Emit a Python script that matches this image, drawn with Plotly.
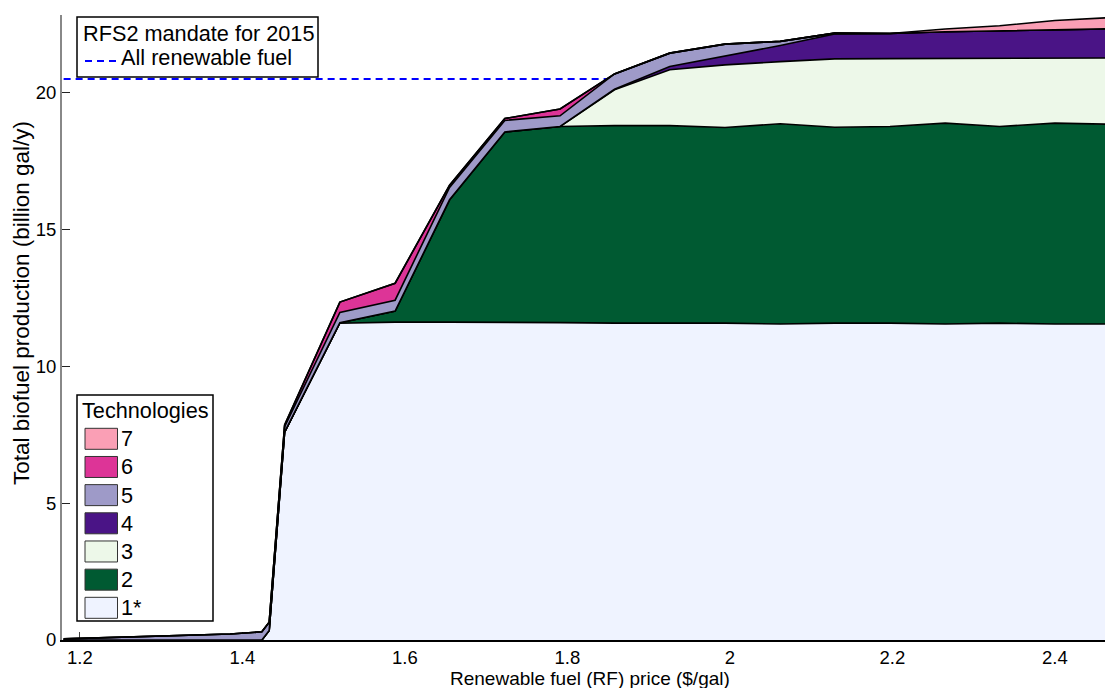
import plotly.graph_objects as go

# Renewable fuel price ($/gal)
price = [1.180, 1.249, 1.317, 1.385, 1.424, 1.433, 1.452, 1.520, 1.588, 1.655, 1.723,
         1.791, 1.858, 1.926, 1.994, 2.062, 2.129, 2.197, 2.265, 2.332, 2.400, 2.468]

# Production by technology (billion gal/y)
tech1 = [0, 0, 0, 0, 0, 0.35, 7.60, 11.58, 11.62, 11.62, 11.62,
         11.60, 11.58, 11.58, 11.58, 11.55, 11.58, 11.58, 11.55, 11.58, 11.55, 11.55]
tech2 = [0, 0, 0, 0, 0, 0, 0, 0.02, 0.40, 4.47, 6.95,
         7.17, 7.22, 7.22, 7.15, 7.32, 7.16, 7.19, 7.34, 7.19, 7.34, 7.30]
tech3 = [0, 0, 0, 0, 0, 0, 0, 0, 0, 0, 0,
         0, 1.31, 2.04, 2.29, 2.27, 2.50, 2.48, 2.36, 2.50, 2.38, 2.42]
tech4 = [0, 0, 0, 0, 0, 0, 0, 0, 0, 0, 0,
         0, 0.02, 0.12, 0.32, 0.59, 0.91, 0.92, 0.98, 1.00, 1.03, 1.07]
tech5 = [0.04, 0.10, 0.14, 0.22, 0.30, 0.30, 0.20, 0.37, 0.40, 0.45, 0.42,
         0.39, 0.56, 0.49, 0.44, 0.15, 0.03, 0, 0, 0, 0, 0]
tech6 = [0, 0, 0, 0, 0, 0, 0.06, 0.38, 0.62, 0.08, 0.07,
         0.25, 0, 0, 0, 0, 0, 0, 0, 0, 0, 0]
tech7 = [0, 0, 0, 0, 0, 0, 0, 0, 0, 0, 0,
         0, 0, 0, 0, 0, 0, 0, 0.10, 0.18, 0.34, 0.41]

tech_names = ["1*", "2", "3", "4", "5", "6", "7"]
tech_colors = ["#EFF3FF", "#005A32", "#EDF8E9", "#4A1486", "#9E9AC8", "#DD3497", "#FA9FB5"]
tech_series = [tech1, tech2, tech3, tech4, tech5, tech6, tech7]

mandate_total = 20.5   # RFS2 2015 mandate, all renewable fuel

FONT = "Liberation Sans, Arial, sans-serif"
LEGEND_SIZE = 21.7

# plot-area geometry in pixels
W, H = 1105, 688
PL, PR, PT, PB = 62, 1105, 15, 640


def fx(px):
    return (px - PL) / (PR - PL)


def fy(py):
    return (PB - py) / (PB - PT)


fig = go.Figure()

# mandate line first so the stacked areas sit on top of it
fig.add_trace(go.Scatter(
    x=[price[0], price[-1]], y=[mandate_total, mandate_total], mode="lines",
    line=dict(color="#0000FF", width=2, dash="7px,5px"), showlegend=False, hoverinfo="skip"))

for name, color, vals in zip(tech_names, tech_colors, tech_series):
    fig.add_trace(go.Scatter(
        x=price, y=vals, name=name, mode="lines", stackgroup="tech",
        line=dict(color="black", width=1.6), fillcolor=color, showlegend=False))

shapes = []
annotations = []

# mandate legend box
shapes.append(dict(type="rect", xref="paper", yref="paper",
                   x0=fx(77), x1=fx(318), y0=fy(17), y1=fy(77),
                   line=dict(color="black", width=1.5), fillcolor="white", layer="above"))
annotations.append(dict(xref="paper", yref="paper", x=fx(81), y=fy(33), xanchor="left",
                        yanchor="middle", showarrow=False, text="RFS2 mandate for 2015",
                        font=dict(family=FONT, size=LEGEND_SIZE, color="black")))
shapes.append(dict(type="line", xref="paper", yref="paper",
                   x0=fx(85), x1=fx(118), y0=fy(61), y1=fy(61),
                   line=dict(color="#0000FF", width=2, dash="7px,5px"), layer="above"))
annotations.append(dict(xref="paper", yref="paper", x=fx(119), y=fy(57), xanchor="left",
                        yanchor="middle", showarrow=False, text="All renewable fuel",
                        font=dict(family=FONT, size=LEGEND_SIZE, color="black")))

# technologies legend box
shapes.append(dict(type="rect", xref="paper", yref="paper",
                   x0=fx(77), x1=fx(213), y0=fy(395), y1=fy(621),
                   line=dict(color="black", width=1.5), fillcolor="white", layer="above"))
annotations.append(dict(xref="paper", yref="paper", x=fx(80), y=fy(410), xanchor="left",
                        yanchor="middle", showarrow=False, text="Technologies",
                        font=dict(family=FONT, size=LEGEND_SIZE, color="black")))
row_top = 428.3
row_step = 28.17
for i, (name, color) in enumerate(reversed(list(zip(tech_names, tech_colors)))):
    top = row_top + i * row_step
    shapes.append(dict(type="rect", xref="paper", yref="paper",
                       x0=fx(85), x1=fx(117.5), y0=fy(top), y1=fy(top + 21),
                       line=dict(color="#333333", width=1), fillcolor=color, layer="above"))
    annotations.append(dict(xref="paper", yref="paper", x=fx(118.5), y=fy(top + 10.5),
                            xanchor="left", yanchor="middle", showarrow=False, text=name,
                            font=dict(family=FONT, size=LEGEND_SIZE, color="black")))

# axis titles
annotations.append(dict(xref="paper", yref="paper", x=fx(590), y=fy(678), xanchor="center",
                        yanchor="middle", showarrow=False,
                        text="Renewable fuel (RF) price ($/gal)",
                        font=dict(family=FONT, size=19, color="black")))
annotations.append(dict(xref="paper", yref="paper", x=fx(21), y=fy(303), xanchor="center",
                        yanchor="middle", showarrow=False, textangle=-90,
                        text="Total biofuel production (billion gal/y)",
                        font=dict(family=FONT, size=22.5, color="black")))

fig.update_layout(
    width=W, height=H,
    margin=dict(l=PL, r=W - PR, t=PT, b=H - PB),
    paper_bgcolor="white", plot_bgcolor="white",
    font=dict(family=FONT, size=18, color="black"),
    showlegend=False,
    shapes=shapes, annotations=annotations,
    xaxis=dict(range=[1.178, 1.178 + (PR - PL) / 812.5], tickvals=[1.2, 1.4, 1.6, 1.8, 2.0, 2.2, 2.4],
               ticktext=["1.2", "1.4", "1.6", "1.8", "2", "2.2", "2.4"],
               showgrid=False, zeroline=False, showline=True, linecolor="black", linewidth=2,
               ticks="inside", ticklen=8, tickwidth=1, tickcolor="#444444",
               tickfont=dict(family=FONT, size=18.5), layer="below traces"),
    yaxis=dict(range=[0, (PB - PT) / 27.36], tickvals=[0, 5, 10, 15, 20],
               showgrid=False, zeroline=False, showline=True, linecolor="#888888", linewidth=2,
               ticks="inside", ticklen=8, tickwidth=1, tickcolor="#222222",
               tickfont=dict(family=FONT, size=18.5), layer="below traces"),
)

fig.write_html("out.html")
